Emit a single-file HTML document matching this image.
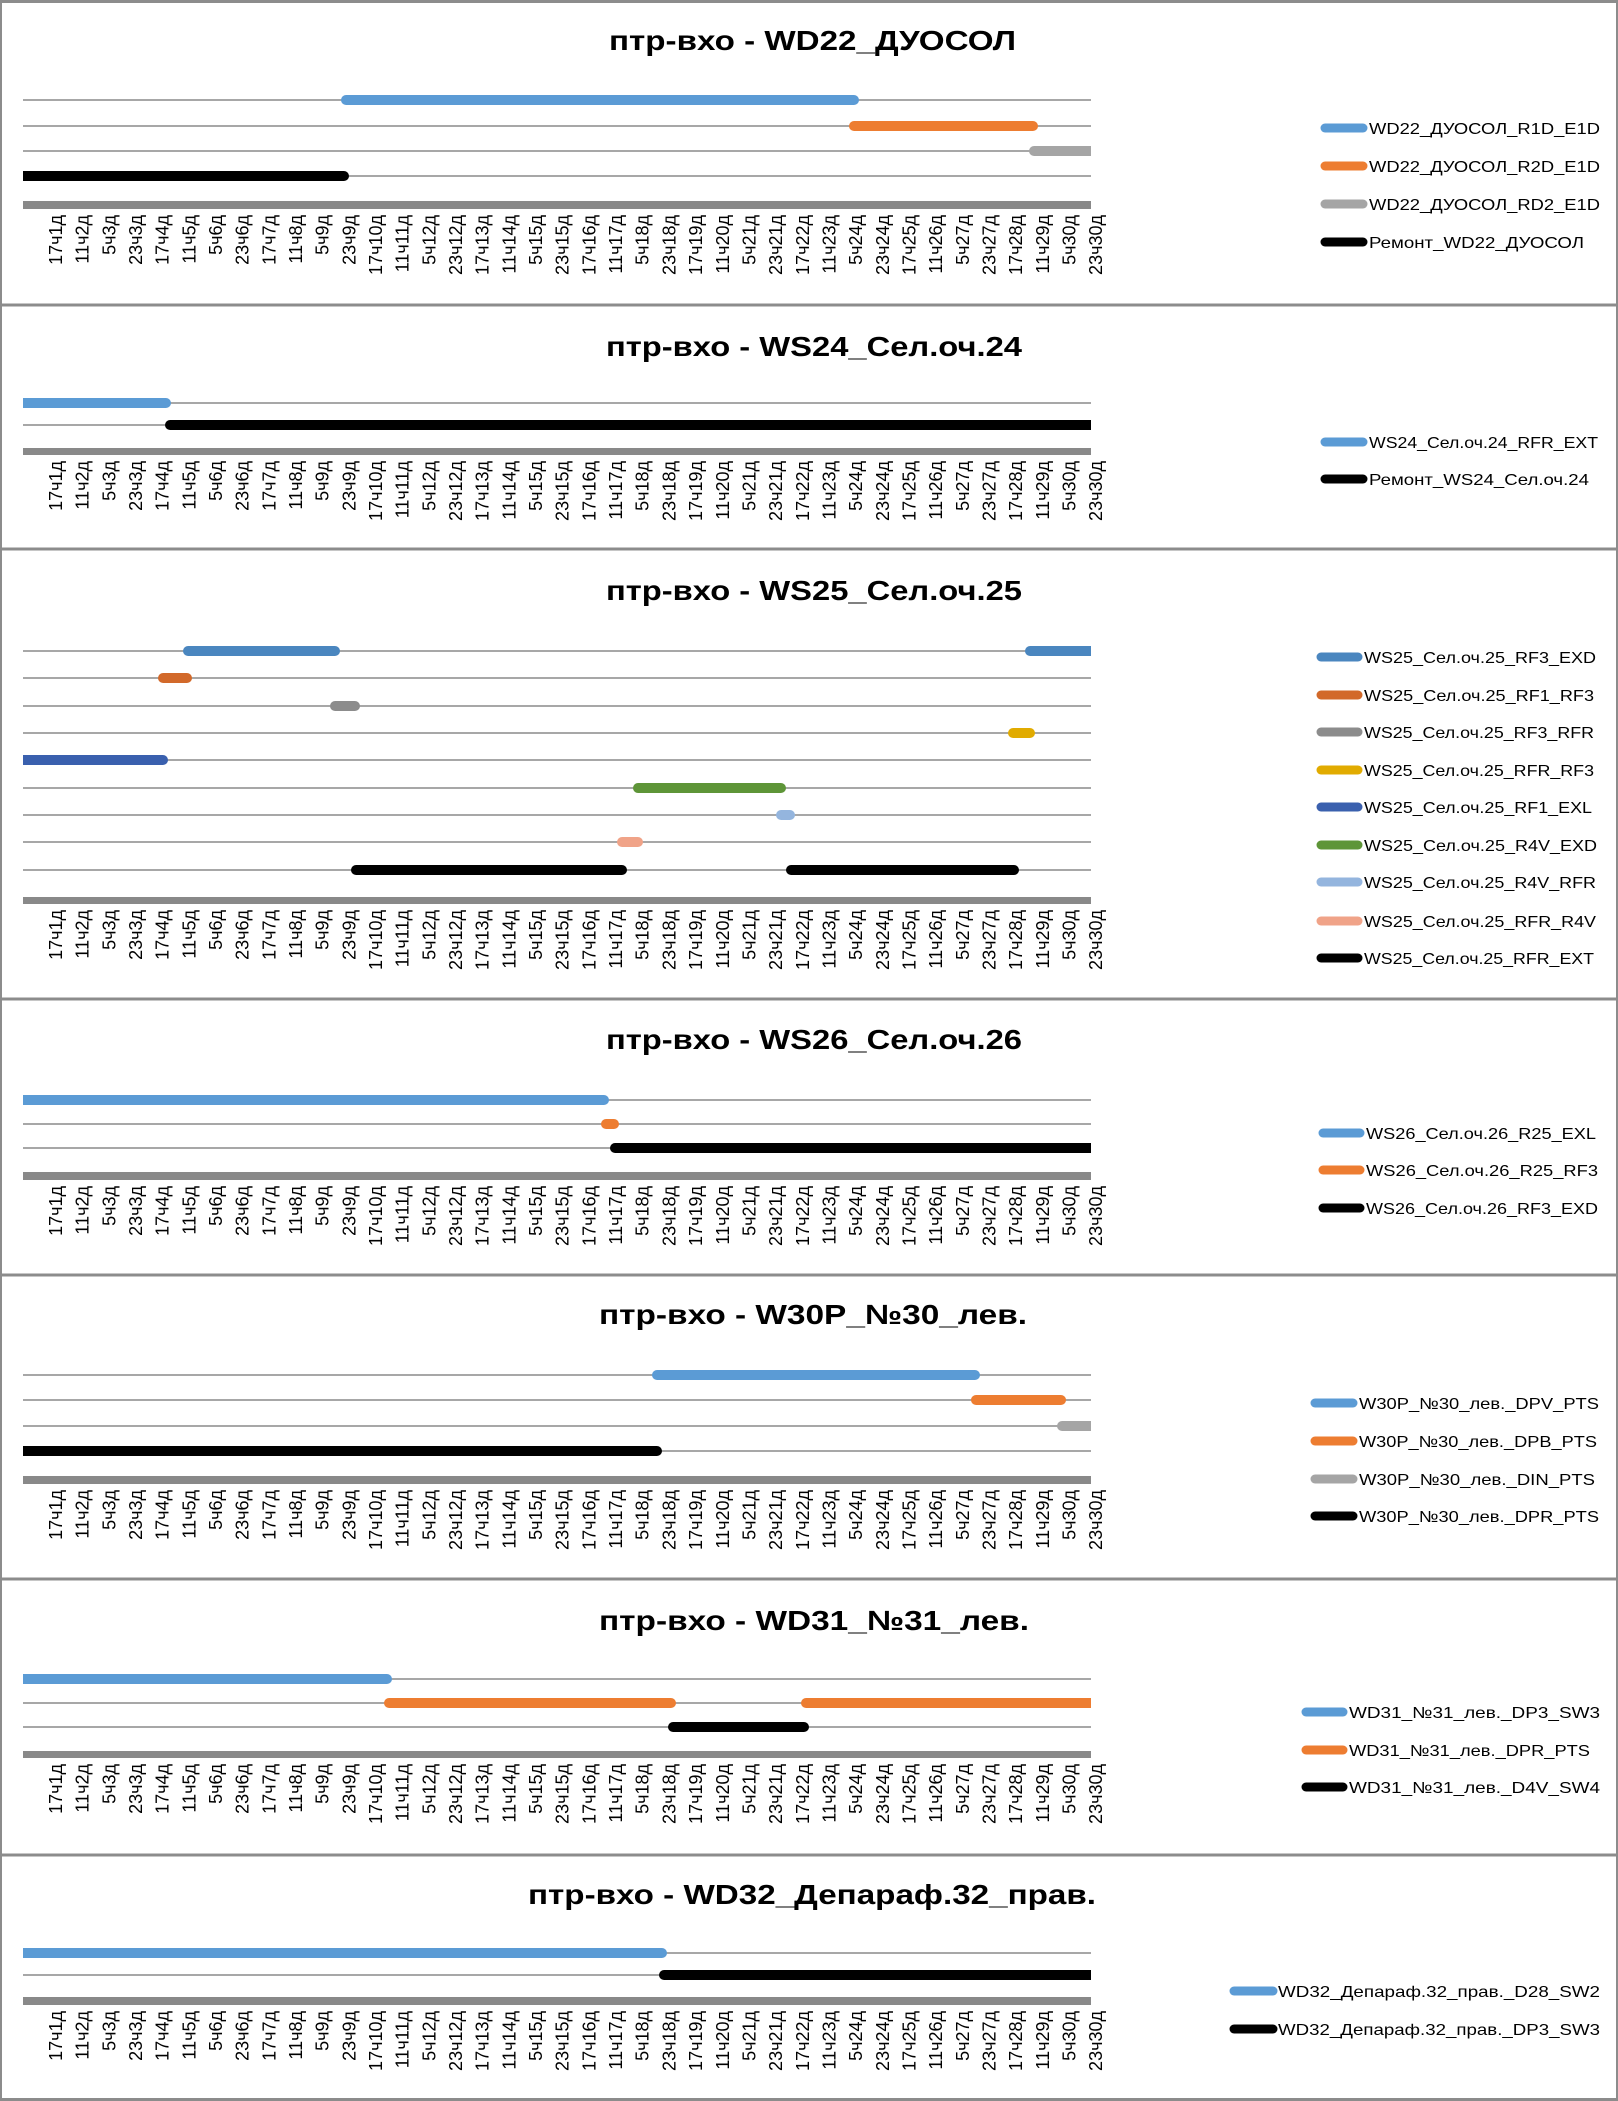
<!DOCTYPE html>
<html><head><meta charset="utf-8"><style>
html,body{margin:0;padding:0;background:#fff}
svg{display:block}
.t{font-family:"Liberation Sans",sans-serif;font-weight:bold;font-size:28px;fill:#000}
.l{font-family:"Liberation Sans",sans-serif;font-size:16px;fill:#000}
.k{font-family:"Liberation Sans",sans-serif;font-size:18px;fill:#000}
.g{stroke:#8a8a8a;stroke-width:1.6}
.ax{fill:#898989}
</style></head><body>
<svg width="1618" height="2101" viewBox="0 0 1618 2101" xmlns="http://www.w3.org/2000/svg">
<defs><clipPath id="pc"><rect x="23" y="0" width="1068" height="2101"/></clipPath></defs>
<rect width="1618" height="2101" fill="#fff"/>
<g stroke="#8c8c8c" stroke-width="3" fill="none">
<line x1="0" y1="1.5" x2="1618" y2="1.5"/>
<line x1="0" y1="305" x2="1618" y2="305"/>
<line x1="0" y1="549" x2="1618" y2="549"/>
<line x1="0" y1="999" x2="1618" y2="999"/>
<line x1="0" y1="1275" x2="1618" y2="1275"/>
<line x1="0" y1="1579" x2="1618" y2="1579"/>
<line x1="0" y1="1855" x2="1618" y2="1855"/>
<line x1="0" y1="2099.5" x2="1618" y2="2099.5"/>
<line x1="1" y1="0" x2="1" y2="2101" stroke-width="2"/>
<line x1="1617" y1="0" x2="1617" y2="2101" stroke-width="2"/>
</g>

<text class="t" x="609" y="50" textLength="407" lengthAdjust="spacingAndGlyphs">птр-вхо - WD22_ДУОСОЛ</text>
<text class="t" x="606" y="356" textLength="416" lengthAdjust="spacingAndGlyphs">птр-вхо - WS24_Сел.оч.24</text>
<text class="t" x="606" y="600" textLength="416" lengthAdjust="spacingAndGlyphs">птр-вхо - WS25_Сел.оч.25</text>
<text class="t" x="606" y="1049" textLength="416" lengthAdjust="spacingAndGlyphs">птр-вхо - WS26_Сел.оч.26</text>
<text class="t" x="599" y="1324" textLength="428" lengthAdjust="spacingAndGlyphs">птр-вхо - W30P_№30_лев.</text>
<text class="t" x="599" y="1630" textLength="430" lengthAdjust="spacingAndGlyphs">птр-вхо - WD31_№31_лев.</text>
<text class="t" x="528" y="1904" textLength="568" lengthAdjust="spacingAndGlyphs">птр-вхо - WD32_Депараф.32_прав.</text>

<g class="g">
<line x1="23" x2="1091" y1="100" y2="100"/><line x1="23" x2="1091" y1="126" y2="126"/><line x1="23" x2="1091" y1="151" y2="151"/><line x1="23" x2="1091" y1="176" y2="176"/>
<line x1="23" x2="1091" y1="403" y2="403"/><line x1="23" x2="1091" y1="425" y2="425"/>
<line x1="23" x2="1091" y1="651" y2="651"/><line x1="23" x2="1091" y1="678" y2="678"/><line x1="23" x2="1091" y1="706" y2="706"/><line x1="23" x2="1091" y1="733" y2="733"/><line x1="23" x2="1091" y1="760" y2="760"/><line x1="23" x2="1091" y1="788" y2="788"/><line x1="23" x2="1091" y1="815" y2="815"/><line x1="23" x2="1091" y1="842" y2="842"/><line x1="23" x2="1091" y1="870" y2="870"/>
<line x1="23" x2="1091" y1="1100" y2="1100"/><line x1="23" x2="1091" y1="1124" y2="1124"/><line x1="23" x2="1091" y1="1148" y2="1148"/>
<line x1="23" x2="1091" y1="1375" y2="1375"/><line x1="23" x2="1091" y1="1400" y2="1400"/><line x1="23" x2="1091" y1="1426" y2="1426"/><line x1="23" x2="1091" y1="1451" y2="1451"/>
<line x1="23" x2="1091" y1="1679" y2="1679"/><line x1="23" x2="1091" y1="1703" y2="1703"/><line x1="23" x2="1091" y1="1727" y2="1727"/>
<line x1="23" x2="1091" y1="1953" y2="1953"/><line x1="23" x2="1091" y1="1975" y2="1975"/>
</g>
<rect class="ax" x="23" y="201" width="1068" height="8"/>
<rect class="ax" x="23" y="448" width="1068" height="7"/>
<rect class="ax" x="23" y="897" width="1068" height="7"/>
<rect class="ax" x="23" y="1172" width="1068" height="8"/>
<rect class="ax" x="23" y="1476" width="1068" height="8"/>
<rect class="ax" x="23" y="1751" width="1068" height="7"/>
<rect class="ax" x="23" y="1997" width="1068" height="8"/>

<g clip-path="url(#pc)">
<rect x="341" y="95" width="518" height="10" rx="5" fill="#5B9BD5"/>
<rect x="849" y="121" width="189" height="10" rx="5" fill="#ED7D31"/>
<rect x="1029" y="146" width="70" height="10" rx="5" fill="#A5A5A5"/>
<rect x="15" y="171" width="334" height="10" rx="5" fill="#000"/>
<rect x="15" y="398" width="156" height="10" rx="5" fill="#5B9BD5"/>
<rect x="165" y="420" width="934" height="10" rx="5" fill="#000"/>
<rect x="183" y="646" width="157" height="10" rx="5" fill="#4A86BF"/>
<rect x="1025" y="646" width="74" height="10" rx="5" fill="#4A86BF"/>
<rect x="158" y="673" width="34" height="10" rx="5" fill="#D2692A"/>
<rect x="330" y="701" width="30" height="10" rx="5" fill="#8C8C8C"/>
<rect x="1008" y="728" width="27" height="10" rx="5" fill="#E1AB00"/>
<rect x="15" y="755" width="153" height="10" rx="5" fill="#3A60AE"/>
<rect x="633" y="783" width="153" height="10" rx="5" fill="#5E9538"/>
<rect x="776" y="810" width="19" height="10" rx="5" fill="#94B5DE"/>
<rect x="617" y="837" width="26" height="10" rx="5" fill="#F0A388"/>
<rect x="351" y="865" width="276" height="10" rx="5" fill="#000"/>
<rect x="786" y="865" width="233" height="10" rx="5" fill="#000"/>
<rect x="15" y="1095" width="594" height="10" rx="5" fill="#5B9BD5"/>
<rect x="601" y="1119" width="18" height="10" rx="5" fill="#ED7D31"/>
<rect x="610" y="1143" width="489" height="10" rx="5" fill="#000"/>
<rect x="652" y="1370" width="328" height="10" rx="5" fill="#5B9BD5"/>
<rect x="971" y="1395" width="95" height="10" rx="5" fill="#ED7D31"/>
<rect x="1057" y="1421" width="42" height="10" rx="5" fill="#A5A5A5"/>
<rect x="15" y="1446" width="647" height="10" rx="5" fill="#000"/>
<rect x="15" y="1674" width="377" height="10" rx="5" fill="#5B9BD5"/>
<rect x="384" y="1698" width="292" height="10" rx="5" fill="#ED7D31"/>
<rect x="801" y="1698" width="298" height="10" rx="5" fill="#ED7D31"/>
<rect x="668" y="1722" width="141" height="10" rx="5" fill="#000"/>
<rect x="15" y="1948" width="652" height="10" rx="5" fill="#5B9BD5"/>
<rect x="659" y="1970" width="440" height="10" rx="5" fill="#000"/>
</g>

<g stroke-linecap="round" stroke-width="9">
<line x1="1325" x2="1363" y1="128" y2="128" stroke="#5B9BD5"/>
<line x1="1325" x2="1363" y1="166" y2="166" stroke="#ED7D31"/>
<line x1="1325" x2="1363" y1="204" y2="204" stroke="#A5A5A5"/>
<line x1="1325" x2="1363" y1="242" y2="242" stroke="#000"/>
<line x1="1325" x2="1363" y1="442" y2="442" stroke="#5B9BD5"/>
<line x1="1325" x2="1363" y1="479" y2="479" stroke="#000"/>
<line x1="1321" x2="1358" y1="657" y2="657" stroke="#4A86BF"/>
<line x1="1321" x2="1358" y1="695" y2="695" stroke="#D2692A"/>
<line x1="1321" x2="1358" y1="732" y2="732" stroke="#8C8C8C"/>
<line x1="1321" x2="1358" y1="770" y2="770" stroke="#E1AB00"/>
<line x1="1321" x2="1358" y1="807" y2="807" stroke="#3A60AE"/>
<line x1="1321" x2="1358" y1="845" y2="845" stroke="#5E9538"/>
<line x1="1321" x2="1358" y1="882" y2="882" stroke="#94B5DE"/>
<line x1="1321" x2="1358" y1="921" y2="921" stroke="#F0A388"/>
<line x1="1321" x2="1358" y1="958" y2="958" stroke="#000"/>
<line x1="1323" x2="1360" y1="1133" y2="1133" stroke="#5B9BD5"/>
<line x1="1323" x2="1360" y1="1170" y2="1170" stroke="#ED7D31"/>
<line x1="1323" x2="1360" y1="1208" y2="1208" stroke="#000"/>
<line x1="1315" x2="1353" y1="1403" y2="1403" stroke="#5B9BD5"/>
<line x1="1315" x2="1353" y1="1441" y2="1441" stroke="#ED7D31"/>
<line x1="1315" x2="1353" y1="1479" y2="1479" stroke="#A5A5A5"/>
<line x1="1315" x2="1353" y1="1516" y2="1516" stroke="#000"/>
<line x1="1306" x2="1343" y1="1712" y2="1712" stroke="#5B9BD5"/>
<line x1="1306" x2="1343" y1="1750" y2="1750" stroke="#ED7D31"/>
<line x1="1306" x2="1343" y1="1787" y2="1787" stroke="#000"/>
<line x1="1234" x2="1273" y1="1991" y2="1991" stroke="#5B9BD5"/>
<line x1="1234" x2="1273" y1="2029" y2="2029" stroke="#000"/>
</g>
<g class="l">
<text x="1369" y="134" textLength="231" lengthAdjust="spacingAndGlyphs">WD22_ДУОСОЛ_R1D_E1D</text>
<text x="1369" y="172" textLength="231" lengthAdjust="spacingAndGlyphs">WD22_ДУОСОЛ_R2D_E1D</text>
<text x="1369" y="210" textLength="231" lengthAdjust="spacingAndGlyphs">WD22_ДУОСОЛ_RD2_E1D</text>
<text x="1369" y="248" textLength="215" lengthAdjust="spacingAndGlyphs">Ремонт_WD22_ДУОСОЛ</text>
<text x="1369" y="448" textLength="229" lengthAdjust="spacingAndGlyphs">WS24_Сел.оч.24_RFR_EXT</text>
<text x="1369" y="485" textLength="220" lengthAdjust="spacingAndGlyphs">Ремонт_WS24_Сел.оч.24</text>
<text x="1364" y="663" textLength="232" lengthAdjust="spacingAndGlyphs">WS25_Сел.оч.25_RF3_EXD</text>
<text x="1364" y="701" textLength="230" lengthAdjust="spacingAndGlyphs">WS25_Сел.оч.25_RF1_RF3</text>
<text x="1364" y="738" textLength="230" lengthAdjust="spacingAndGlyphs">WS25_Сел.оч.25_RF3_RFR</text>
<text x="1364" y="776" textLength="230" lengthAdjust="spacingAndGlyphs">WS25_Сел.оч.25_RFR_RF3</text>
<text x="1364" y="813" textLength="228" lengthAdjust="spacingAndGlyphs">WS25_Сел.оч.25_RF1_EXL</text>
<text x="1364" y="851" textLength="233" lengthAdjust="spacingAndGlyphs">WS25_Сел.оч.25_R4V_EXD</text>
<text x="1364" y="888" textLength="232" lengthAdjust="spacingAndGlyphs">WS25_Сел.оч.25_R4V_RFR</text>
<text x="1364" y="927" textLength="232" lengthAdjust="spacingAndGlyphs">WS25_Сел.оч.25_RFR_R4V</text>
<text x="1364" y="964" textLength="230" lengthAdjust="spacingAndGlyphs">WS25_Сел.оч.25_RFR_EXT</text>
<text x="1366" y="1139" textLength="230" lengthAdjust="spacingAndGlyphs">WS26_Сел.оч.26_R25_EXL</text>
<text x="1366" y="1176" textLength="232" lengthAdjust="spacingAndGlyphs">WS26_Сел.оч.26_R25_RF3</text>
<text x="1366" y="1214" textLength="232" lengthAdjust="spacingAndGlyphs">WS26_Сел.оч.26_RF3_EXD</text>
<text x="1359" y="1409" textLength="240" lengthAdjust="spacingAndGlyphs">W30P_№30_лев._DPV_PTS</text>
<text x="1359" y="1447" textLength="238" lengthAdjust="spacingAndGlyphs">W30P_№30_лев._DPB_PTS</text>
<text x="1359" y="1485" textLength="236" lengthAdjust="spacingAndGlyphs">W30P_№30_лев._DIN_PTS</text>
<text x="1359" y="1522" textLength="240" lengthAdjust="spacingAndGlyphs">W30P_№30_лев._DPR_PTS</text>
<text x="1349" y="1718" textLength="251" lengthAdjust="spacingAndGlyphs">WD31_№31_лев._DP3_SW3</text>
<text x="1349" y="1756" textLength="241" lengthAdjust="spacingAndGlyphs">WD31_№31_лев._DPR_PTS</text>
<text x="1349" y="1793" textLength="251" lengthAdjust="spacingAndGlyphs">WD31_№31_лев._D4V_SW4</text>
<text x="1278" y="1997" textLength="322" lengthAdjust="spacingAndGlyphs">WD32_Депараф.32_прав._D28_SW2</text>
<text x="1278" y="2035" textLength="322" lengthAdjust="spacingAndGlyphs">WD32_Депараф.32_прав._DP3_SW3</text>
</g>

<g class="k" text-anchor="end" transform="translate(-3,215)">
<text transform="translate(65,0) rotate(-90)">17ч1д</text><text transform="translate(91.7,0) rotate(-90)">11ч2д</text><text transform="translate(118.3,0) rotate(-90)">5ч3д</text><text transform="translate(145,0) rotate(-90)">23ч3д</text><text transform="translate(171.7,0) rotate(-90)">17ч4д</text><text transform="translate(198.4,0) rotate(-90)">11ч5д</text><text transform="translate(225,0) rotate(-90)">5ч6д</text><text transform="translate(251.7,0) rotate(-90)">23ч6д</text><text transform="translate(278.4,0) rotate(-90)">17ч7д</text><text transform="translate(305,0) rotate(-90)">11ч8д</text><text transform="translate(331.7,0) rotate(-90)">5ч9д</text><text transform="translate(358.4,0) rotate(-90)">23ч9д</text><text transform="translate(385,0) rotate(-90)">17ч10д</text><text transform="translate(411.7,0) rotate(-90)">11ч11д</text><text transform="translate(438.4,0) rotate(-90)">5ч12д</text><text transform="translate(465.1,0) rotate(-90)">23ч12д</text><text transform="translate(491.7,0) rotate(-90)">17ч13д</text><text transform="translate(518.4,0) rotate(-90)">11ч14д</text><text transform="translate(545.1,0) rotate(-90)">5ч15д</text><text transform="translate(571.7,0) rotate(-90)">23ч15д</text><text transform="translate(598.4,0) rotate(-90)">17ч16д</text><text transform="translate(625.1,0) rotate(-90)">11ч17д</text><text transform="translate(651.7,0) rotate(-90)">5ч18д</text><text transform="translate(678.4,0) rotate(-90)">23ч18д</text><text transform="translate(705.1,0) rotate(-90)">17ч19д</text><text transform="translate(731.8,0) rotate(-90)">11ч20д</text><text transform="translate(758.4,0) rotate(-90)">5ч21д</text><text transform="translate(785.1,0) rotate(-90)">23ч21д</text><text transform="translate(811.8,0) rotate(-90)">17ч22д</text><text transform="translate(838.4,0) rotate(-90)">11ч23д</text><text transform="translate(865.1,0) rotate(-90)">5ч24д</text><text transform="translate(891.8,0) rotate(-90)">23ч24д</text><text transform="translate(918.4,0) rotate(-90)">17ч25д</text><text transform="translate(945.1,0) rotate(-90)">11ч26д</text><text transform="translate(971.8,0) rotate(-90)">5ч27д</text><text transform="translate(998.5,0) rotate(-90)">23ч27д</text><text transform="translate(1025.1,0) rotate(-90)">17ч28д</text><text transform="translate(1051.8,0) rotate(-90)">11ч29д</text><text transform="translate(1078.5,0) rotate(-90)">5ч30д</text><text transform="translate(1105.1,0) rotate(-90)">23ч30д</text>
</g>
<g class="k" text-anchor="end" transform="translate(-3,461)">
<text transform="translate(65,0) rotate(-90)">17ч1д</text><text transform="translate(91.7,0) rotate(-90)">11ч2д</text><text transform="translate(118.3,0) rotate(-90)">5ч3д</text><text transform="translate(145,0) rotate(-90)">23ч3д</text><text transform="translate(171.7,0) rotate(-90)">17ч4д</text><text transform="translate(198.4,0) rotate(-90)">11ч5д</text><text transform="translate(225,0) rotate(-90)">5ч6д</text><text transform="translate(251.7,0) rotate(-90)">23ч6д</text><text transform="translate(278.4,0) rotate(-90)">17ч7д</text><text transform="translate(305,0) rotate(-90)">11ч8д</text><text transform="translate(331.7,0) rotate(-90)">5ч9д</text><text transform="translate(358.4,0) rotate(-90)">23ч9д</text><text transform="translate(385,0) rotate(-90)">17ч10д</text><text transform="translate(411.7,0) rotate(-90)">11ч11д</text><text transform="translate(438.4,0) rotate(-90)">5ч12д</text><text transform="translate(465.1,0) rotate(-90)">23ч12д</text><text transform="translate(491.7,0) rotate(-90)">17ч13д</text><text transform="translate(518.4,0) rotate(-90)">11ч14д</text><text transform="translate(545.1,0) rotate(-90)">5ч15д</text><text transform="translate(571.7,0) rotate(-90)">23ч15д</text><text transform="translate(598.4,0) rotate(-90)">17ч16д</text><text transform="translate(625.1,0) rotate(-90)">11ч17д</text><text transform="translate(651.7,0) rotate(-90)">5ч18д</text><text transform="translate(678.4,0) rotate(-90)">23ч18д</text><text transform="translate(705.1,0) rotate(-90)">17ч19д</text><text transform="translate(731.8,0) rotate(-90)">11ч20д</text><text transform="translate(758.4,0) rotate(-90)">5ч21д</text><text transform="translate(785.1,0) rotate(-90)">23ч21д</text><text transform="translate(811.8,0) rotate(-90)">17ч22д</text><text transform="translate(838.4,0) rotate(-90)">11ч23д</text><text transform="translate(865.1,0) rotate(-90)">5ч24д</text><text transform="translate(891.8,0) rotate(-90)">23ч24д</text><text transform="translate(918.4,0) rotate(-90)">17ч25д</text><text transform="translate(945.1,0) rotate(-90)">11ч26д</text><text transform="translate(971.8,0) rotate(-90)">5ч27д</text><text transform="translate(998.5,0) rotate(-90)">23ч27д</text><text transform="translate(1025.1,0) rotate(-90)">17ч28д</text><text transform="translate(1051.8,0) rotate(-90)">11ч29д</text><text transform="translate(1078.5,0) rotate(-90)">5ч30д</text><text transform="translate(1105.1,0) rotate(-90)">23ч30д</text>
</g>
<g class="k" text-anchor="end" transform="translate(-3,910)">
<text transform="translate(65,0) rotate(-90)">17ч1д</text><text transform="translate(91.7,0) rotate(-90)">11ч2д</text><text transform="translate(118.3,0) rotate(-90)">5ч3д</text><text transform="translate(145,0) rotate(-90)">23ч3д</text><text transform="translate(171.7,0) rotate(-90)">17ч4д</text><text transform="translate(198.4,0) rotate(-90)">11ч5д</text><text transform="translate(225,0) rotate(-90)">5ч6д</text><text transform="translate(251.7,0) rotate(-90)">23ч6д</text><text transform="translate(278.4,0) rotate(-90)">17ч7д</text><text transform="translate(305,0) rotate(-90)">11ч8д</text><text transform="translate(331.7,0) rotate(-90)">5ч9д</text><text transform="translate(358.4,0) rotate(-90)">23ч9д</text><text transform="translate(385,0) rotate(-90)">17ч10д</text><text transform="translate(411.7,0) rotate(-90)">11ч11д</text><text transform="translate(438.4,0) rotate(-90)">5ч12д</text><text transform="translate(465.1,0) rotate(-90)">23ч12д</text><text transform="translate(491.7,0) rotate(-90)">17ч13д</text><text transform="translate(518.4,0) rotate(-90)">11ч14д</text><text transform="translate(545.1,0) rotate(-90)">5ч15д</text><text transform="translate(571.7,0) rotate(-90)">23ч15д</text><text transform="translate(598.4,0) rotate(-90)">17ч16д</text><text transform="translate(625.1,0) rotate(-90)">11ч17д</text><text transform="translate(651.7,0) rotate(-90)">5ч18д</text><text transform="translate(678.4,0) rotate(-90)">23ч18д</text><text transform="translate(705.1,0) rotate(-90)">17ч19д</text><text transform="translate(731.8,0) rotate(-90)">11ч20д</text><text transform="translate(758.4,0) rotate(-90)">5ч21д</text><text transform="translate(785.1,0) rotate(-90)">23ч21д</text><text transform="translate(811.8,0) rotate(-90)">17ч22д</text><text transform="translate(838.4,0) rotate(-90)">11ч23д</text><text transform="translate(865.1,0) rotate(-90)">5ч24д</text><text transform="translate(891.8,0) rotate(-90)">23ч24д</text><text transform="translate(918.4,0) rotate(-90)">17ч25д</text><text transform="translate(945.1,0) rotate(-90)">11ч26д</text><text transform="translate(971.8,0) rotate(-90)">5ч27д</text><text transform="translate(998.5,0) rotate(-90)">23ч27д</text><text transform="translate(1025.1,0) rotate(-90)">17ч28д</text><text transform="translate(1051.8,0) rotate(-90)">11ч29д</text><text transform="translate(1078.5,0) rotate(-90)">5ч30д</text><text transform="translate(1105.1,0) rotate(-90)">23ч30д</text>
</g>
<g class="k" text-anchor="end" transform="translate(-3,1186)">
<text transform="translate(65,0) rotate(-90)">17ч1д</text><text transform="translate(91.7,0) rotate(-90)">11ч2д</text><text transform="translate(118.3,0) rotate(-90)">5ч3д</text><text transform="translate(145,0) rotate(-90)">23ч3д</text><text transform="translate(171.7,0) rotate(-90)">17ч4д</text><text transform="translate(198.4,0) rotate(-90)">11ч5д</text><text transform="translate(225,0) rotate(-90)">5ч6д</text><text transform="translate(251.7,0) rotate(-90)">23ч6д</text><text transform="translate(278.4,0) rotate(-90)">17ч7д</text><text transform="translate(305,0) rotate(-90)">11ч8д</text><text transform="translate(331.7,0) rotate(-90)">5ч9д</text><text transform="translate(358.4,0) rotate(-90)">23ч9д</text><text transform="translate(385,0) rotate(-90)">17ч10д</text><text transform="translate(411.7,0) rotate(-90)">11ч11д</text><text transform="translate(438.4,0) rotate(-90)">5ч12д</text><text transform="translate(465.1,0) rotate(-90)">23ч12д</text><text transform="translate(491.7,0) rotate(-90)">17ч13д</text><text transform="translate(518.4,0) rotate(-90)">11ч14д</text><text transform="translate(545.1,0) rotate(-90)">5ч15д</text><text transform="translate(571.7,0) rotate(-90)">23ч15д</text><text transform="translate(598.4,0) rotate(-90)">17ч16д</text><text transform="translate(625.1,0) rotate(-90)">11ч17д</text><text transform="translate(651.7,0) rotate(-90)">5ч18д</text><text transform="translate(678.4,0) rotate(-90)">23ч18д</text><text transform="translate(705.1,0) rotate(-90)">17ч19д</text><text transform="translate(731.8,0) rotate(-90)">11ч20д</text><text transform="translate(758.4,0) rotate(-90)">5ч21д</text><text transform="translate(785.1,0) rotate(-90)">23ч21д</text><text transform="translate(811.8,0) rotate(-90)">17ч22д</text><text transform="translate(838.4,0) rotate(-90)">11ч23д</text><text transform="translate(865.1,0) rotate(-90)">5ч24д</text><text transform="translate(891.8,0) rotate(-90)">23ч24д</text><text transform="translate(918.4,0) rotate(-90)">17ч25д</text><text transform="translate(945.1,0) rotate(-90)">11ч26д</text><text transform="translate(971.8,0) rotate(-90)">5ч27д</text><text transform="translate(998.5,0) rotate(-90)">23ч27д</text><text transform="translate(1025.1,0) rotate(-90)">17ч28д</text><text transform="translate(1051.8,0) rotate(-90)">11ч29д</text><text transform="translate(1078.5,0) rotate(-90)">5ч30д</text><text transform="translate(1105.1,0) rotate(-90)">23ч30д</text>
</g>
<g class="k" text-anchor="end" transform="translate(-3,1490)">
<text transform="translate(65,0) rotate(-90)">17ч1д</text><text transform="translate(91.7,0) rotate(-90)">11ч2д</text><text transform="translate(118.3,0) rotate(-90)">5ч3д</text><text transform="translate(145,0) rotate(-90)">23ч3д</text><text transform="translate(171.7,0) rotate(-90)">17ч4д</text><text transform="translate(198.4,0) rotate(-90)">11ч5д</text><text transform="translate(225,0) rotate(-90)">5ч6д</text><text transform="translate(251.7,0) rotate(-90)">23ч6д</text><text transform="translate(278.4,0) rotate(-90)">17ч7д</text><text transform="translate(305,0) rotate(-90)">11ч8д</text><text transform="translate(331.7,0) rotate(-90)">5ч9д</text><text transform="translate(358.4,0) rotate(-90)">23ч9д</text><text transform="translate(385,0) rotate(-90)">17ч10д</text><text transform="translate(411.7,0) rotate(-90)">11ч11д</text><text transform="translate(438.4,0) rotate(-90)">5ч12д</text><text transform="translate(465.1,0) rotate(-90)">23ч12д</text><text transform="translate(491.7,0) rotate(-90)">17ч13д</text><text transform="translate(518.4,0) rotate(-90)">11ч14д</text><text transform="translate(545.1,0) rotate(-90)">5ч15д</text><text transform="translate(571.7,0) rotate(-90)">23ч15д</text><text transform="translate(598.4,0) rotate(-90)">17ч16д</text><text transform="translate(625.1,0) rotate(-90)">11ч17д</text><text transform="translate(651.7,0) rotate(-90)">5ч18д</text><text transform="translate(678.4,0) rotate(-90)">23ч18д</text><text transform="translate(705.1,0) rotate(-90)">17ч19д</text><text transform="translate(731.8,0) rotate(-90)">11ч20д</text><text transform="translate(758.4,0) rotate(-90)">5ч21д</text><text transform="translate(785.1,0) rotate(-90)">23ч21д</text><text transform="translate(811.8,0) rotate(-90)">17ч22д</text><text transform="translate(838.4,0) rotate(-90)">11ч23д</text><text transform="translate(865.1,0) rotate(-90)">5ч24д</text><text transform="translate(891.8,0) rotate(-90)">23ч24д</text><text transform="translate(918.4,0) rotate(-90)">17ч25д</text><text transform="translate(945.1,0) rotate(-90)">11ч26д</text><text transform="translate(971.8,0) rotate(-90)">5ч27д</text><text transform="translate(998.5,0) rotate(-90)">23ч27д</text><text transform="translate(1025.1,0) rotate(-90)">17ч28д</text><text transform="translate(1051.8,0) rotate(-90)">11ч29д</text><text transform="translate(1078.5,0) rotate(-90)">5ч30д</text><text transform="translate(1105.1,0) rotate(-90)">23ч30д</text>
</g>
<g class="k" text-anchor="end" transform="translate(-3,1764)">
<text transform="translate(65,0) rotate(-90)">17ч1д</text><text transform="translate(91.7,0) rotate(-90)">11ч2д</text><text transform="translate(118.3,0) rotate(-90)">5ч3д</text><text transform="translate(145,0) rotate(-90)">23ч3д</text><text transform="translate(171.7,0) rotate(-90)">17ч4д</text><text transform="translate(198.4,0) rotate(-90)">11ч5д</text><text transform="translate(225,0) rotate(-90)">5ч6д</text><text transform="translate(251.7,0) rotate(-90)">23ч6д</text><text transform="translate(278.4,0) rotate(-90)">17ч7д</text><text transform="translate(305,0) rotate(-90)">11ч8д</text><text transform="translate(331.7,0) rotate(-90)">5ч9д</text><text transform="translate(358.4,0) rotate(-90)">23ч9д</text><text transform="translate(385,0) rotate(-90)">17ч10д</text><text transform="translate(411.7,0) rotate(-90)">11ч11д</text><text transform="translate(438.4,0) rotate(-90)">5ч12д</text><text transform="translate(465.1,0) rotate(-90)">23ч12д</text><text transform="translate(491.7,0) rotate(-90)">17ч13д</text><text transform="translate(518.4,0) rotate(-90)">11ч14д</text><text transform="translate(545.1,0) rotate(-90)">5ч15д</text><text transform="translate(571.7,0) rotate(-90)">23ч15д</text><text transform="translate(598.4,0) rotate(-90)">17ч16д</text><text transform="translate(625.1,0) rotate(-90)">11ч17д</text><text transform="translate(651.7,0) rotate(-90)">5ч18д</text><text transform="translate(678.4,0) rotate(-90)">23ч18д</text><text transform="translate(705.1,0) rotate(-90)">17ч19д</text><text transform="translate(731.8,0) rotate(-90)">11ч20д</text><text transform="translate(758.4,0) rotate(-90)">5ч21д</text><text transform="translate(785.1,0) rotate(-90)">23ч21д</text><text transform="translate(811.8,0) rotate(-90)">17ч22д</text><text transform="translate(838.4,0) rotate(-90)">11ч23д</text><text transform="translate(865.1,0) rotate(-90)">5ч24д</text><text transform="translate(891.8,0) rotate(-90)">23ч24д</text><text transform="translate(918.4,0) rotate(-90)">17ч25д</text><text transform="translate(945.1,0) rotate(-90)">11ч26д</text><text transform="translate(971.8,0) rotate(-90)">5ч27д</text><text transform="translate(998.5,0) rotate(-90)">23ч27д</text><text transform="translate(1025.1,0) rotate(-90)">17ч28д</text><text transform="translate(1051.8,0) rotate(-90)">11ч29д</text><text transform="translate(1078.5,0) rotate(-90)">5ч30д</text><text transform="translate(1105.1,0) rotate(-90)">23ч30д</text>
</g>
<g class="k" text-anchor="end" transform="translate(-3,2011)">
<text transform="translate(65,0) rotate(-90)">17ч1д</text><text transform="translate(91.7,0) rotate(-90)">11ч2д</text><text transform="translate(118.3,0) rotate(-90)">5ч3д</text><text transform="translate(145,0) rotate(-90)">23ч3д</text><text transform="translate(171.7,0) rotate(-90)">17ч4д</text><text transform="translate(198.4,0) rotate(-90)">11ч5д</text><text transform="translate(225,0) rotate(-90)">5ч6д</text><text transform="translate(251.7,0) rotate(-90)">23ч6д</text><text transform="translate(278.4,0) rotate(-90)">17ч7д</text><text transform="translate(305,0) rotate(-90)">11ч8д</text><text transform="translate(331.7,0) rotate(-90)">5ч9д</text><text transform="translate(358.4,0) rotate(-90)">23ч9д</text><text transform="translate(385,0) rotate(-90)">17ч10д</text><text transform="translate(411.7,0) rotate(-90)">11ч11д</text><text transform="translate(438.4,0) rotate(-90)">5ч12д</text><text transform="translate(465.1,0) rotate(-90)">23ч12д</text><text transform="translate(491.7,0) rotate(-90)">17ч13д</text><text transform="translate(518.4,0) rotate(-90)">11ч14д</text><text transform="translate(545.1,0) rotate(-90)">5ч15д</text><text transform="translate(571.7,0) rotate(-90)">23ч15д</text><text transform="translate(598.4,0) rotate(-90)">17ч16д</text><text transform="translate(625.1,0) rotate(-90)">11ч17д</text><text transform="translate(651.7,0) rotate(-90)">5ч18д</text><text transform="translate(678.4,0) rotate(-90)">23ч18д</text><text transform="translate(705.1,0) rotate(-90)">17ч19д</text><text transform="translate(731.8,0) rotate(-90)">11ч20д</text><text transform="translate(758.4,0) rotate(-90)">5ч21д</text><text transform="translate(785.1,0) rotate(-90)">23ч21д</text><text transform="translate(811.8,0) rotate(-90)">17ч22д</text><text transform="translate(838.4,0) rotate(-90)">11ч23д</text><text transform="translate(865.1,0) rotate(-90)">5ч24д</text><text transform="translate(891.8,0) rotate(-90)">23ч24д</text><text transform="translate(918.4,0) rotate(-90)">17ч25д</text><text transform="translate(945.1,0) rotate(-90)">11ч26д</text><text transform="translate(971.8,0) rotate(-90)">5ч27д</text><text transform="translate(998.5,0) rotate(-90)">23ч27д</text><text transform="translate(1025.1,0) rotate(-90)">17ч28д</text><text transform="translate(1051.8,0) rotate(-90)">11ч29д</text><text transform="translate(1078.5,0) rotate(-90)">5ч30д</text><text transform="translate(1105.1,0) rotate(-90)">23ч30д</text>
</g>
</svg>
</body></html>
